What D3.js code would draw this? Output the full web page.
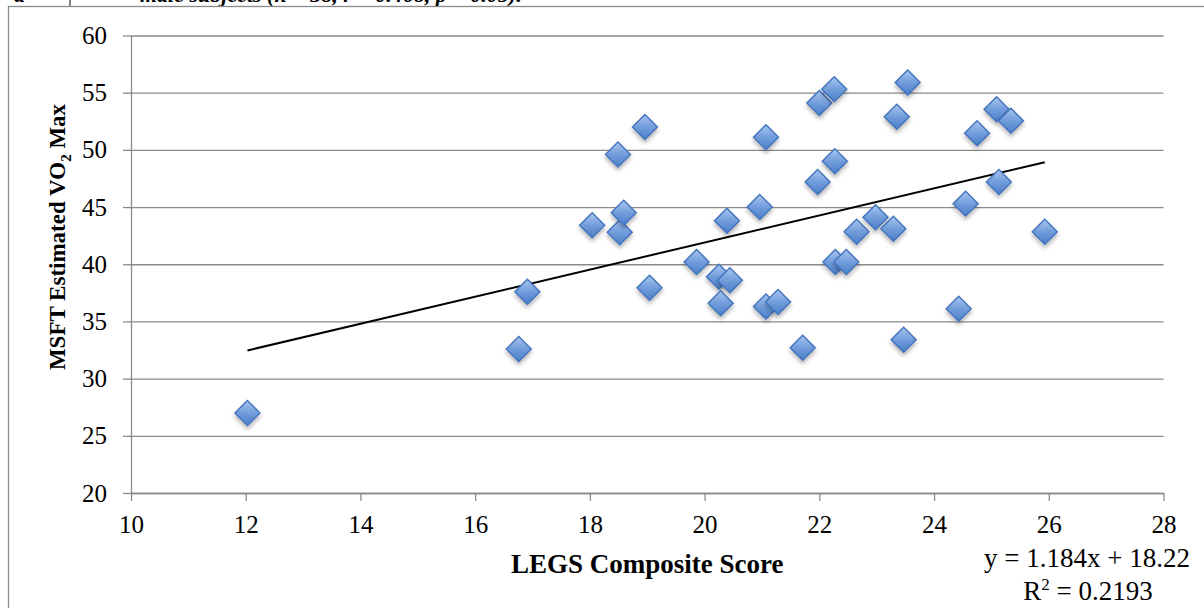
<!DOCTYPE html>
<html>
<head>
<meta charset="utf-8">
<script src="https://cdn.jsdelivr.net/npm/d3@7"></script>
<style>
  body { margin: 0; background: #fff; }
  svg { display: block; }
  .tick text { font-family: "Liberation Serif", "DejaVu Serif", serif; font-size: 25px; fill: #000; }
</style>
</head>
<body>
<script>
// chart size
var width = 1204;
var height = 608;

// data: LEGS composite score vs MSFT estimated VO2 max
var legsScore = [12.03, 16.76, 16.91, 18.04, 18.49, 18.52, 18.59, 18.96, 19.04, 19.86,
                 20.25, 20.28, 20.39, 20.44, 20.96, 21.07, 21.07, 21.28, 21.71, 21.97,
                 22.00, 22.26, 22.27, 22.28, 22.47, 22.65, 22.98, 23.29, 23.35, 23.47,
                 23.54, 24.43, 24.55, 24.75, 25.09, 25.13, 25.34, 25.93];
var vo2Max    = [27.0, 32.6, 37.6, 43.4, 49.6, 42.8, 44.5, 52.0, 37.95, 40.2,
                 38.9, 36.6, 43.8, 38.6, 45.0, 51.1, 36.3, 36.7, 32.7, 47.2,
                 54.1, 55.3, 49.0, 40.2, 40.2, 42.85, 44.1, 43.1, 52.9, 33.4,
                 55.9, 36.1, 45.3, 51.45, 53.55, 47.2, 52.55, 42.85];
var xTicks = [10, 12, 14, 16, 18, 20, 22, 24, 26, 28];
var yTicks = [20, 25, 30, 35, 40, 45, 50, 55, 60];
// linear trend line as printed on the chart
var trendSlope = 1.184;
var trendIntercept = 18.22;
var trendLabel = "y = 1.184x + 18.22";
var r2Value = "0.2193";

var points = legsScore.map(function(v, i) { return {x: v, y: vo2Max[i]}; });

// plot area edges (don't use "top" – it's a window property)
var plotLeft = 131, plotRight = 1163.5, plotTop = 35.5, plotBottom = 493;

var x = d3.scaleLinear().domain([10, 28]).range([plotLeft, plotRight]);
var y = d3.scaleLinear().domain([20, 60]).range([plotBottom, plotTop]);

var svg = d3.select("body")
            .append("svg")
            .attr("width", width)
            .attr("height", height);

var defs = svg.append("defs");

var grad = defs.append("linearGradient")
               .attr("id", "diamondFill")
               .attr("x1", "0").attr("y1", "0")
               .attr("x2", "0").attr("y2", "1");
grad.append("stop").attr("offset", "0%").attr("stop-color", "#a9c6f0");
grad.append("stop").attr("offset", "50%").attr("stop-color", "#729ddb");
grad.append("stop").attr("offset", "100%").attr("stop-color", "#4b7ec8");

var shadow = defs.append("filter")
                 .attr("id", "shadow")
                 .attr("x", "-50%").attr("y", "-50%")
                 .attr("width", "200%").attr("height", "200%");
shadow.append("feDropShadow")
      .attr("dx", 0).attr("dy", 3)
      .attr("stdDeviation", 2)
      .attr("flood-color", "#000")
      .attr("flood-opacity", 0.3);

// caption cut off at the top of the page
svg.append("line")
   .attr("x1", 70).attr("x2", 70)
   .attr("y1", 0).attr("y2", 6)
   .style("stroke", "#000").style("stroke-width", 1);
svg.append("text")
   .attr("x", 14).attr("y", 2)
   .style("font-family", "Liberation Serif, serif")
   .style("font-size", "22px")
   .style("font-weight", "bold")
   .style("font-style", "italic")
   .text("a");
svg.append("text")
   .attr("x", 140).attr("y", 2)
   .style("font-family", "Liberation Serif, serif")
   .style("font-size", "22px")
   .style("font-weight", "bold")
   .style("font-style", "italic")
   .text("male subjects (n = 38, r = 0.468, p < 0.05).");

// outer chart frame
svg.append("rect")
   .attr("x", 8.5).attr("y", 6.5)
   .attr("width", 1300).attr("height", 700)
   .style("fill", "#fff")
   .style("stroke", "#8a8a8a")
   .style("stroke-width", 1.3);

// horizontal gridlines
svg.append("g")
   .attr("transform", "translate(" + plotLeft + ",0)")
   .call(d3.axisLeft(y).tickValues(yTicks).tickSize(-(plotRight - plotLeft)).tickFormat(""))
   .call(function(g) {
     g.select(".domain").remove();
     g.selectAll(".tick line").style("stroke", "#8a8a8a").style("stroke-width", 1.3);
   });

// y axis
svg.append("g")
   .attr("transform", "translate(" + plotLeft + ",0)")
   .call(d3.axisLeft(y).tickValues(yTicks).tickSize(8).tickPadding(16).tickSizeOuter(0))
   .call(function(g) {
     g.select(".domain").style("stroke", "#8a8a8a").style("stroke-width", 1.3);
     g.selectAll(".tick line").style("stroke", "#8a8a8a").style("stroke-width", 1.3);
   });

// x axis
svg.append("g")
   .attr("transform", "translate(0," + plotBottom + ")")
   .call(d3.axisBottom(x).tickValues(xTicks).tickSize(8).tickPadding(14).tickSizeOuter(0))
   .call(function(g) {
     g.select(".domain").style("stroke", "#8a8a8a").style("stroke-width", 1.3);
     g.selectAll(".tick line").style("stroke", "#8a8a8a").style("stroke-width", 1.3);
   });

// trend line across the range of the data
var xMin = d3.min(legsScore), xMax = d3.max(legsScore);
svg.append("line")
   .attr("x1", x(xMin)).attr("y1", y(trendSlope * xMin + trendIntercept))
   .attr("x2", x(xMax)).attr("y2", y(trendSlope * xMax + trendIntercept))
   .style("stroke", "#000")
   .style("stroke-width", 2);

// diamond markers
svg.append("g")
   .selectAll("path")
   .data(points)
   .enter()
   .append("path")
   .attr("transform", function(d) { return "translate(" + x(d.x) + "," + y(d.y) + ")"; })
   .attr("d", "M0,-12.5 L12.5,0 L0,12.5 L-12.5,0 Z")
   .style("fill", "url(#diamondFill)")
   .style("stroke", "#4374bd")
   .style("stroke-width", 1.4)
   .style("filter", "url(#shadow)");

// axis titles
svg.append("text")
   .attr("x", (plotLeft + plotRight) / 2).attr("y", 573)
   .attr("text-anchor", "middle")
   .style("font-family", "Liberation Serif, serif")
   .style("font-size", "27px")
   .style("font-weight", "bold")
   .text("LEGS Composite Score");

var yTitle = svg.append("text")
   .attr("transform", "translate(65,237) rotate(-90)")
   .attr("text-anchor", "middle")
   .style("font-family", "Liberation Serif, serif")
   .style("font-size", "23px")
   .style("font-weight", "bold");
yTitle.append("tspan").text("MSFT Estimated VO");
yTitle.append("tspan").attr("dy", 6).style("font-size", "15px").text("2");
yTitle.append("tspan").attr("dy", -6).text(" Max");

// trend line equation
svg.append("text")
   .attr("x", 1087).attr("y", 567)
   .attr("text-anchor", "middle")
   .style("font-family", "Liberation Serif, serif")
   .style("font-size", "27px")
   .text(trendLabel);

var r2 = svg.append("text")
   .attr("x", 1088).attr("y", 600)
   .attr("text-anchor", "middle")
   .style("font-family", "Liberation Serif, serif")
   .style("font-size", "27px");
r2.append("tspan").text("R");
r2.append("tspan").attr("dy", -10).style("font-size", "17px").text("2");
r2.append("tspan").attr("dy", 10).text(" = " + r2Value);
</script>
</body>
</html>
